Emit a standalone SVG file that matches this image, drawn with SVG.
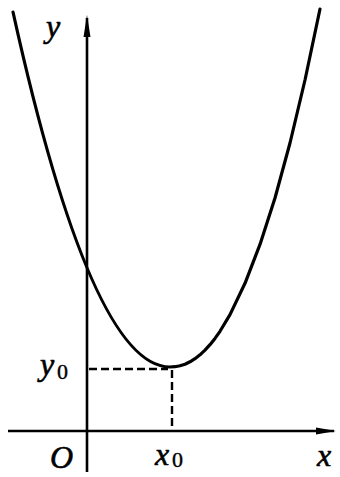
<svg xmlns="http://www.w3.org/2000/svg" width="340" height="477" viewBox="0 0 340 477">
<style>
.ax{stroke:#000;stroke-width:2.6;fill:none}
.cv{stroke:#000;stroke-width:3.2;fill:none;stroke-linejoin:round;stroke-linecap:round}
.ds{stroke:#000;stroke-width:2.4;fill:none;stroke-dasharray:8 4}
.lb{font-family:"Liberation Serif",serif;font-style:italic;font-size:32px;fill:#000;stroke:#000;stroke-width:0.6}
.sb{font-family:"Liberation Serif",serif;font-size:22px;fill:#000;stroke:#000;stroke-width:0.4}
</style>
<rect width="340" height="477" fill="#fff"/>
<g id="axes">
<line class="ax" x1="8" y1="431" x2="334" y2="431"/>
<polygon points="336,431 316,427.5 316,434.5" fill="#000"/>
<line class="ax" x1="87" y1="18" x2="87" y2="472"/>
<polygon points="87,15 83.5,37 90.5,37" fill="#000"/>
</g>
<g id="curve">
<path class="cv" d="M13,12 Q91.5,367 170,367 L175,366.7 L180,365.8 L185,364.2 L190,361.8 L195,358.7 L200,354.8 L205,350.1 L210,344.7 L215,338.4 L220,331.3 L230,314.6 L245,283.3 L260,244.4 L275,198 L290,143 L305,80 L320,9"/>
</g>
<g id="guides">
<line class="ds" x1="89" y1="369" x2="168" y2="369"/>
<line class="ds" x1="172" y1="370" x2="172" y2="430"/>
</g>
<g id="labels">
<text class="lb" x="46" y="37">y</text>
<text class="lb" x="40" y="375">y</text>
<text class="sb" x="57" y="379">0</text>
<text class="lb" x="155" y="465">x</text>
<text class="sb" x="172" y="467">0</text>
<text class="lb" x="50" y="468">O</text>
<text class="lb" x="317" y="466">x</text>
</g>
</svg>
